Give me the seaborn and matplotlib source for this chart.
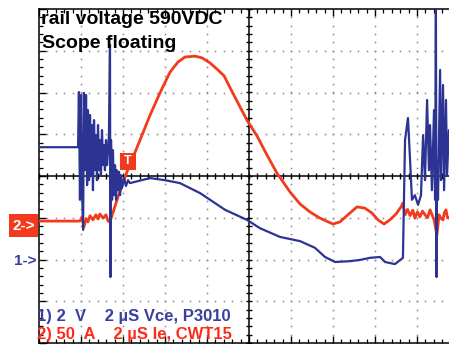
import numpy as np
import pandas as pd
import matplotlib
matplotlib.use("Agg")
import matplotlib.pyplot as plt
from matplotlib.patches import Rectangle
import seaborn as sns

# ---- data (time in µs, value in screen divisions) ----
t_vce = [0.00, 1.86, 1.90, 1.95, 2.00, 2.05, 2.10, 2.14, 2.19, 2.24, 2.29, 2.33, 2.38, 2.43,
         2.48, 2.52, 2.57, 2.62, 2.67, 2.71, 2.76, 2.81, 2.86, 2.90, 2.95, 3.00, 3.05, 3.10,
         3.14, 3.19, 3.24, 3.29, 3.33, 3.38, 3.40, 3.43, 3.48, 3.52, 3.57, 3.62, 3.67, 3.71,
         3.76, 3.81, 3.86, 3.90, 3.95, 4.05, 4.14, 4.24, 4.33, 5.29, 6.00, 6.71, 7.67, 8.86,
         9.90, 10.52, 11.48, 12.43, 13.14, 13.62, 14.10, 14.81, 15.29, 15.76, 16.24, 16.48,
         16.95, 17.33, 17.43, 17.57, 17.67, 17.76, 17.90, 18.05, 18.19, 18.29, 18.38, 18.48,
         18.57, 18.62, 18.71, 18.81, 18.86, 18.90, 18.93, 18.95, 19.00, 19.10, 19.14, 19.24,
         19.29, 19.38, 19.43, 19.52, 20.00]
vce_div = [0.69, 0.69, 2.01, -0.57, 1.94, -0.34, -1.29, 1.99, 0.14, 1.94, -0.22, 1.58, -0.10, 1.46,
           0.02, 1.22, -0.34, 1.34, 0.14, 0.98, -0.10, 1.22, 0.14, 0.86, 0.02, 1.10, 0.26, 0.74,
           0.14, 0.86, 0.26, 0.62, 0.98, 3.14, -2.42, 0.86, -0.57, 0.62, -0.46, 0.26, -0.57, 0.14,
           -0.34, 0.10, -0.46, 0.02, -0.29, -0.05, -0.24, -0.10, -0.17, -0.05, -0.10, -0.17, -0.41, -0.81,
           -1.05, -1.25, -1.46, -1.56, -1.72, -1.94, -2.06, -2.04, -2.01, -1.96, -1.94, -2.06,
           -2.11, -1.96, 0.86, 1.39, 0.38, -0.57, -0.46, -0.69, -0.46, 0.98, -0.10, 1.82,
           0.14, 1.22, -0.34, 1.58, -0.57, 3.98, -2.42, 0.38, -0.57, 2.54, -0.10, 2.18,
           -0.34, 1.82, 0.02, 1.10, 0.62]

t_ie = [0.00, 1.95, 2.05, 2.14, 2.24, 2.33, 2.43, 2.57, 2.71, 2.81, 2.90, 3.05, 3.19, 3.29,
        3.38, 3.76, 4.19, 4.81, 5.29, 5.76, 6.24, 6.62, 6.95, 7.43, 7.76, 8.14, 8.52, 8.81,
        9.33, 9.90, 10.38, 10.86, 11.33, 11.95, 12.43, 12.90, 13.38, 14.00, 14.33, 14.71,
        15.14, 15.52, 15.86, 16.14, 16.43, 16.71, 17.00, 17.24, 17.33, 17.43, 17.55, 17.67,
        17.80, 17.90, 18.02, 18.14, 18.26, 18.38, 18.50, 18.62, 18.74, 18.81, 18.95, 19.05,
        19.15, 19.24, 19.30, 19.38, 19.45, 19.52, 20.00]
ie_div = [-1.08, -1.08, -0.98, -1.22, -1.02, -1.10, -0.95, -1.05, -0.93, -1.03, -0.91, -1.01, -0.93, -1.08,
          -1.10, -0.50, 0.10, 0.86, 1.46, 1.99, 2.49, 2.73, 2.85, 2.87, 2.83, 2.71, 2.54, 2.40,
          1.89, 1.34, 0.96, 0.50, 0.07, -0.38, -0.67, -0.86, -1.01, -1.15, -1.10, -0.93,
          -0.74, -0.77, -0.89, -1.05, -1.15, -1.05, -0.91, -0.74, -0.65, -0.93, -0.80, -0.95,
          -0.82, -1.01, -0.86, -0.98, -0.84, -0.93, -1.00, -0.81, -0.96, -1.05, -1.41, -0.93,
          -1.02, -1.05, -0.88, -0.81, -1.00, -1.01, -0.91]

ch1_label = "1) 2  V    2 µS Vce, P3010"
ch2_label = "2) 50  A    2 µS Ie, CWT15"
title_lines = ["rail voltage 590VDC", "Scope floating"]

BLUE = "#2b3492"
RED = "#f23a1c"
BLUE_TXT = "#3a3f9e"
RED_TXT = "#ff2b1a"

sns.set_style("white")
plt.rcParams['font.family'] = ['Liberation Sans', 'DejaVu Sans']

W, H = 449, 345
fig = plt.figure(figsize=(W / 100, H / 100), dpi=100)
fig.patch.set_facecolor("white")
ax = fig.add_axes([39 / W, 2 / H, 420 / W, 334 / H])
ax.set_xlim(0, 20)
ax.set_ylim(-4, 4)
ax.set_facecolor("white")

# graticule dots
xs_minor = np.arange(0, 20.001, 0.4)
ys_minor = np.arange(-4, 4.001, 0.2)
for gx in [2, 4, 6, 8, 12, 14, 16, 18]:
    ax.plot(np.full_like(ys_minor, gx), ys_minor, ls="none", marker="s", ms=1.1,
            color="#8a8a8a", mec="none", zorder=1)
for gy in [-3, -2, -1, 1, 2, 3]:
    ax.plot(xs_minor, np.full_like(xs_minor, gy), ls="none", marker="s", ms=1.1,
            color="#8a8a8a", mec="none", zorder=1)

# center crosshair with ticks
ax.axhline(0, color="black", lw=1.1, zorder=2)
ax.axvline(10, color="black", lw=1.1, zorder=2)
ax.plot(xs_minor, np.zeros_like(xs_minor), ls="none", marker="|", ms=5, mew=1.0,
        color="black", zorder=2)
ax.plot(np.full_like(ys_minor, 10), ys_minor, ls="none", marker="_", ms=5, mew=1.0,
        color="black", zorder=2)

# border
for s in ["left", "top", "bottom"]:
    ax.spines[s].set_visible(True)
    ax.spines[s].set_color("black")
    ax.spines[s].set_linewidth(1.1)
ax.spines["right"].set_visible(False)
ax.set_xticks(np.arange(0, 20.01, 2))
ax.set_xticks(xs_minor, minor=True)
ax.set_yticks(np.arange(-4, 4.01, 1))
ax.set_yticks(ys_minor, minor=True)
ax.tick_params(which="both", direction="in", top=True, bottom=True, left=True, right=False,
               labelbottom=False, labelleft=False, color="black")
ax.tick_params(which="major", length=5, width=1.0)
ax.tick_params(which="minor", length=3, width=0.9)

df_ie = pd.DataFrame({"t": t_ie, "v": ie_div})
df_vce = pd.DataFrame({"t": t_vce, "v": vce_div})
sns.lineplot(data=df_ie, x="t", y="v", ax=ax, color=RED, lw=2.0, sort=False,
             estimator=None, zorder=3)
sns.lineplot(data=df_vce, x="t", y="v", ax=ax, color=BLUE, lw=1.6, sort=False,
             estimator=None, zorder=4)
ax.set_xlabel("")
ax.set_ylabel("")

# texts
fig.text(41 / W, 1 - 20 / H, title_lines[0], fontsize=14, fontweight="bold",
         color="black", va="center", ha="left")
fig.text(42 / W, 1 - 44 / H, title_lines[1], fontsize=14, fontweight="bold",
         color="black", va="center", ha="left")
fig.text(37 / W, 1 - 316 / H, ch1_label, fontsize=12, fontweight="bold",
         color=BLUE_TXT, va="center", ha="left")
fig.text(37 / W, 1 - 334 / H, ch2_label, fontsize=12, fontweight="bold",
         color=RED_TXT, va="center", ha="left")

# channel markers
fig.add_artist(Rectangle((9 / W, 1 - 237 / H), 29 / W, 23 / H, transform=fig.transFigure,
                         facecolor=RED, edgecolor="none", zorder=5))
fig.text(23.5 / W, 1 - 225.5 / H, "2->", fontsize=11, fontweight="bold", color="white",
         ha="center", va="center", zorder=6)
fig.text(25 / W, 1 - 261 / H, "1->", fontsize=11, fontweight="bold", color=BLUE_TXT,
         ha="center", va="center")

# trigger marker
fig.add_artist(Rectangle((120 / W, 1 - 170 / H), 16 / W, 17 / H, transform=fig.transFigure,
                         facecolor=RED, edgecolor="none", zorder=5))
fig.text(128 / W, 1 - 161.5 / H, "T", fontsize=9, fontweight="bold", color="white",
         ha="center", va="center", zorder=6)

fig.savefig("out.png", dpi=100)
